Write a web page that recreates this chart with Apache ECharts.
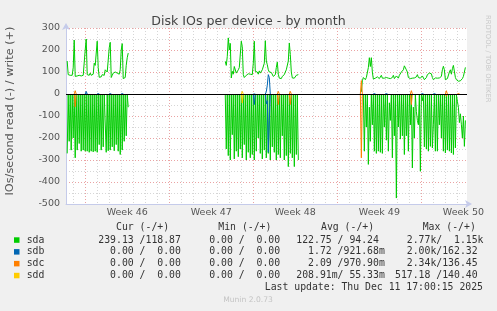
<!DOCTYPE html>
<html><head><meta charset="utf-8">
<script src="https://cdn.jsdelivr.net/npm/echarts@6/dist/echarts.min.js"></script>
<style>html,body{margin:0;padding:0;background:#f0f0f0;}#c{width:497px;height:311px;}</style>
</head><body><div id="c"></div>
<script>
// ---- time layout: x in days since Mon Nov 10 2025 00:00, samples every 2 hours ----
const STEP = 1 / 12;
const xMin = -1.6, xMax = 31.8;
const segStarts = [-1.5, 11 + 8 / 12, 23.0];

// ---- x axis ticks / labels ----
const weekLabels = ['Week 46', 'Week 47', 'Week 48', 'Week 49', 'Week 50'];
const weekLabelPos = [3.5, 10.5, 17.5, 24.5, 31.5];
const weekStarts = [0, 7, 14, 21, 28];
const dayTicks = [-1, 1, 2, 3, 4, 5, 6, 8, 9, 10, 11, 12, 13, 15, 16, 17, 18, 19, 20, 22, 23, 24, 25, 26, 27, 29, 30, 31];

// ---- sda write (+), per segment ----
const sdaWrite1 = [150, 88, 82, 85, 80, 85, 120, 245, 80, 75, 82, 78, 85, 78, 82, 88, 85, 90, 200, 250, 88, 82, 85, 95, 85, 82, 90, 140, 130, 125, 240, 120, 76, 80, 78, 88, 80, 85, 110, 105, 100, 95, 210, 235, 75, 85, 95, 90, 100, 105, 95, 88, 90, 110, 200, 229, 70, 65, 75, 130, 165, 186];
const sdaWrite2 = [148, 130, 170, 255, 200, 230, 73, 103, 90, 125, 120, 95, 88, 110, 120, 125, 240, 215, 88, 75, 78, 85, 80, 92, 85, 90, 85, 88, 140, 240, 103, 95, 100, 90, 105, 95, 100, 110, 105, 140, 242, 150, 133, 110, 100, 105, 98, 90, 80, 85, 88, 120, 145, 90, 72, 75, 70, 80, 85, 88, 100, 110, 115, 150, 232, 180, 100, 73, 75, 72, 80, 85, 82, 88];
const sdaWrite3 = [10, 60, 75, 70, 65, 75, 80, 120, 165, 125, 165, 100, 68, 70, 72, 75, 78, 72, 70, 75, 85, 72, 80, 72, 70, 75, 78, 72, 68, 70, 78, 75, 85, 70, 75, 82, 80, 72, 85, 90, 100, 95, 110, 128, 133, 110, 100, 75, 72, 70, 75, 72, 75, 73,
  73, 78, 88, 75, 70, 72, 80, 82, 78, 65, 68, 75, 88, 90, 95, 100, 92, 75, 65, 68, 73, 75, 72, 70, 73, 75, 80, 110, 126, 110, 65, 68, 70, 65, 100, 110, 90, 115, 130, 133, 75, 65, 60, 58, 58, 60, 62, 70, 80, 100, 121];

// ---- sda read (drawn as negative), per segment ----
const sdaRead1 = [270, 4, 215, 2, 255, 3, 200, 1, 290, 2, 255, 3, 225, 1, 260, 2, 255, 1, 260, 1, 260, 2, 265, 1, 260, 2, 263, 1, 260, 3, 265, 0, 230, 4, 255, 2, 240, 0, 3, 265, 2, 258, 1, 255, 3, 240, 1, 258, 2, 230, 1, 260, 2, 275, 1, 255, 3, 215, 4, 190, 1, 60];
const sdaRead2 = [2, 250, 1, 280, 1, 300, 2, 185, 1, 295, 3, 260, 1, 285, 2, 250, 0, 290, 1, 230, 2, 300, 1, 265, 3, 290, 1, 275, 1, 300, 2, 260, 1, 200, 1, 270, 2, 295, 4, 255, 0, 290, 1, 270, 3, 300, 1, 240, 2, 265, 1, 300, 2, 275, 1, 290, 3, 190, 1, 300, 2, 280, 1, 330, 0, 270, 2, 290, 1, 330, 3, 275, 1, 300];
const sdaRead3 = [2, 1, 3, 260, 4, 150, 3, 320, 60, 215, 2, 140, 1, 260, 2, 270, 1, 260, 3, 265, 1, 270, 3, 150, 1, 210, 2, 260, 40, 120, 1, 290, 3, 190, 1, 473, 4, 150, 2, 205, 3, 190, 1, 275, 4, 190, 1, 260, 3, 140, 2, 336,
  60, 200, 3, 80, 120, 140, 4, 351, 2, 30, 1, 240, 2, 250, 1, 260, 3, 238, 1, 245, 140, 3, 260, 1, 260, 3, 140, 2, 200, 1, 260, 3, 268, 1, 255, 3, 260, 2, 268, 1, 275, 3, 245, 4, 33, 60, 130, 90, 140, 200, 100, 238, 120];

// ---- other devices: bursts [startDay, writes[], reads[]] (zero elsewhere) ----
const sdbBursts = [[0.0833, [12], [8]], [1.0833, [5], [5]], [2.0833, [5], [5]], [3.0833, [5], [5]],
  [14.0833, [5], [48]], [15.0833, [10, 40, 88, 75], [45, 30, 265, 120]],
  [24.0833, [5], [5]], [25.0833, [5], [5]], [28.0833, [5], [5]], [29.0833, [5], [5]]];
const sdcBursts = [[-0.8333, [15], [58]], [16.0833, [12], [48]], [17.0833, [12], [48]], [23.0, [61], [290]],
  [27.1667, [15], [48]], [30.0833, [15], [10]], [31.0833, [8], [5]]];
const sddBursts = [[13.0833, [12], [41]]];

// ---- legend table ----
const devices = ['sda', 'sdb', 'sdc', 'sdd'];
const colors = ['#00cc00', '#0066b3', '#ff8000', '#ffcc00'];
const curStats = ['239.13 /118.87', '  0.00 /  0.00', '  0.00 /  0.00', '  0.00 /  0.00'];
const minStats = ['  0.00 /  0.00', '  0.00 /  0.00', '  0.00 /  0.00', '  0.00 /  0.00'];
const avgStats = ['122.75 / 94.24', '  1.72 /921.68m', '  2.09 /970.90m', '208.91m/ 55.33m'];
const maxStats = ['  2.77k/  1.15k', '  2.00k/162.32', '  2.34k/136.45', '517.18 /140.40'];
const headers = ['Cur (-/+)', 'Min (-/+)', 'Avg (-/+)', 'Max (-/+)'];
const lastUpdate = 'Last update: Thu Dec 11 17:00:15 2025';

// ---- build series data ----
function segData(segs, sign) {
  const out = [];
  segs.forEach((arr, s) => {
    if (s > 0) out.push([segStarts[s] - STEP / 2, '-']);
    arr.forEach((v, i) => out.push([segStarts[s] + i * STEP, sign * v]));
  });
  return out;
}
function burstData(bursts, k, sign) {
  const out = [];
  bursts.forEach(b => {
    const t0 = b[0], vals = b[k];
    out.push([t0 - STEP, 0]);
    vals.forEach((v, i) => out.push([t0 + i * STEP, sign * v]));
    out.push([t0 + vals.length * STEP, 0]);
    out.push([t0 + vals.length * STEP + 0.001, '-']);
  });
  return out;
}
function lineSeries(name, color, data, extra) {
  return Object.assign({
    name, type: 'line', data, showSymbol: false, symbol: 'none', connectNulls: false,
    lineStyle: { width: 1, color }, itemStyle: { color }, animation: false, silent: true,
    emphasis: { disabled: true }, clip: true
  }, extra || {});
}

const series = [
  lineSeries('sda-read', colors[0], segData([sdaRead1, sdaRead2, sdaRead3], -1)),
  lineSeries('sda-write', colors[0], segData([sdaWrite1, sdaWrite2, sdaWrite3], 1)),
  lineSeries('sdb-read', colors[1], burstData(sdbBursts, 2, -1)),
  lineSeries('sdb-write', colors[1], burstData(sdbBursts, 1, 1)),
  lineSeries('sdc-read', colors[2], burstData(sdcBursts, 2, -1)),
  lineSeries('sdc-write', colors[2], burstData(sdcBursts, 1, 1)),
  lineSeries('sdd-read', colors[3], burstData(sddBursts, 2, -1)),
  lineSeries('sdd-write', colors[3], burstData(sddBursts, 1, 1), {
    markLine: { silent: true, symbol: ['none', 'none'], label: { show: false },
      lineStyle: { color: '#000', width: 1, type: 'solid' }, data: [{ yAxis: 0 }], animation: false }
  })
];

// ---- graphic: legend + side texts ----
const mono = '9.8px "DejaVu Sans Mono"';
const txt = '#333';
const graphic = [];
const rowY = [240, 251.8, 263.6, 275.5];
const colX = [98.3, 197.5, 296.3, 395];
const headX = [116, 218.3, 321, 422.7];
headers.forEach((h, i) => graphic.push({ type: 'text', x: headX[i], y: 227.6, style: { text: h, font: mono, fill: txt, textVerticalAlign: 'middle' } }));
devices.forEach((d, r) => {
  graphic.push({ type: 'rect', shape: { x: 14, y: rowY[r] - 2.7, width: 5.5, height: 5.5 }, style: { fill: colors[r] } });
  graphic.push({ type: 'text', x: 26.7, y: rowY[r], style: { text: d, font: mono, fill: txt, textVerticalAlign: 'middle' } });
  [curStats, minStats, avgStats, maxStats].forEach((col, c) => {
    graphic.push({ type: 'text', x: colX[c], y: rowY[r], style: { text: col[r], font: mono, fill: txt, textVerticalAlign: 'middle' } });
  });
});
graphic.push({ type: 'text', x: 483, y: 287.6, style: { text: lastUpdate, font: mono, fill: txt, textAlign: 'right', textVerticalAlign: 'middle' } });
graphic.push({ type: 'text', x: 248, y: 300, style: { text: 'Munin 2.0.73', font: '7.6px "DejaVu Sans"', fill: '#c4c4c4', textAlign: 'center', textVerticalAlign: 'middle' } });
graphic.push({ type: 'text', x: 488, y: 15, rotation: -Math.PI / 2, style: { text: 'RRDTOOL / TOBI OETIKER', font: '6.8px "DejaVu Sans"', fill: '#c8c8c8', textAlign: 'left', textVerticalAlign: 'middle' } });
graphic.push({ type: 'text', x: 10, y: 111, rotation: Math.PI / 2, style: { text: 'IOs/second read (-) / write (+)', font: '11.3px "DejaVu Sans"', fill: '#555', textAlign: 'center', textVerticalAlign: 'middle' } });

const axisCol = '#c5cbea';
const majorGrid = { color: '#eaa3a3', type: [1, 2], width: 1 };
const minorGrid = { color: '#d6d6d6', type: [1, 2], width: 1 };

const chart = echarts.init(document.getElementById('c'), null, { renderer: 'canvas' });
chart.setOption({
  animation: false,
  backgroundColor: '#f0f0f0',
  textStyle: { fontFamily: 'DejaVu Sans' },
  title: { text: 'Disk IOs per device - by month', left: 'center', top: 10,
    textStyle: { fontSize: 12.6, fontWeight: 'normal', color: '#444', fontFamily: 'DejaVu Sans' } },
  grid: { left: 66, top: 28, width: 401, height: 176, containLabel: false, outerBoundsMode: 'none',
    show: true, backgroundColor: '#ffffff', borderWidth: 0 },
  xAxis: [
    { type: 'value', min: xMin, max: xMax,
      axisLine: { show: true, onZero: false, lineStyle: { color: axisCol, width: 1 }, symbol: ['none', 'arrow'], symbolSize: [6, 7], symbolOffset: [0, 5] },
      axisTick: { show: false, customValues: dayTicks },
      axisLabel: { show: false },
      splitLine: { show: true, lineStyle: minorGrid } },
    { type: 'value', min: xMin, max: xMax, position: 'bottom',
      axisLine: { show: false, onZero: false },
      axisTick: { show: false, customValues: weekStarts },
      axisLabel: { show: true, customValues: weekLabelPos, color: '#555', fontSize: 9.5, fontFamily: 'DejaVu Sans', margin: 4,
        formatter: v => weekLabels[weekLabelPos.indexOf(v)] },
      splitLine: { show: true, lineStyle: majorGrid } }
  ],
  yAxis: { type: 'value', min: -500, max: 300, interval: 100,
    axisLine: { show: true, onZero: false, lineStyle: { color: axisCol, width: 1 }, symbol: ['none', 'arrow'], symbolSize: [6, 7], symbolOffset: [0, 5] },
    axisTick: { show: false },
    axisLabel: { color: '#555', fontSize: 9.5, fontFamily: 'DejaVu Sans', margin: 6, showMinLabel: true, showMaxLabel: true },
    splitLine: { show: true, lineStyle: majorGrid },
    minorTick: { show: false, splitNumber: 2 },
    minorSplitLine: { show: true, lineStyle: minorGrid } },
  series,
  graphic
});
</script></body></html>
